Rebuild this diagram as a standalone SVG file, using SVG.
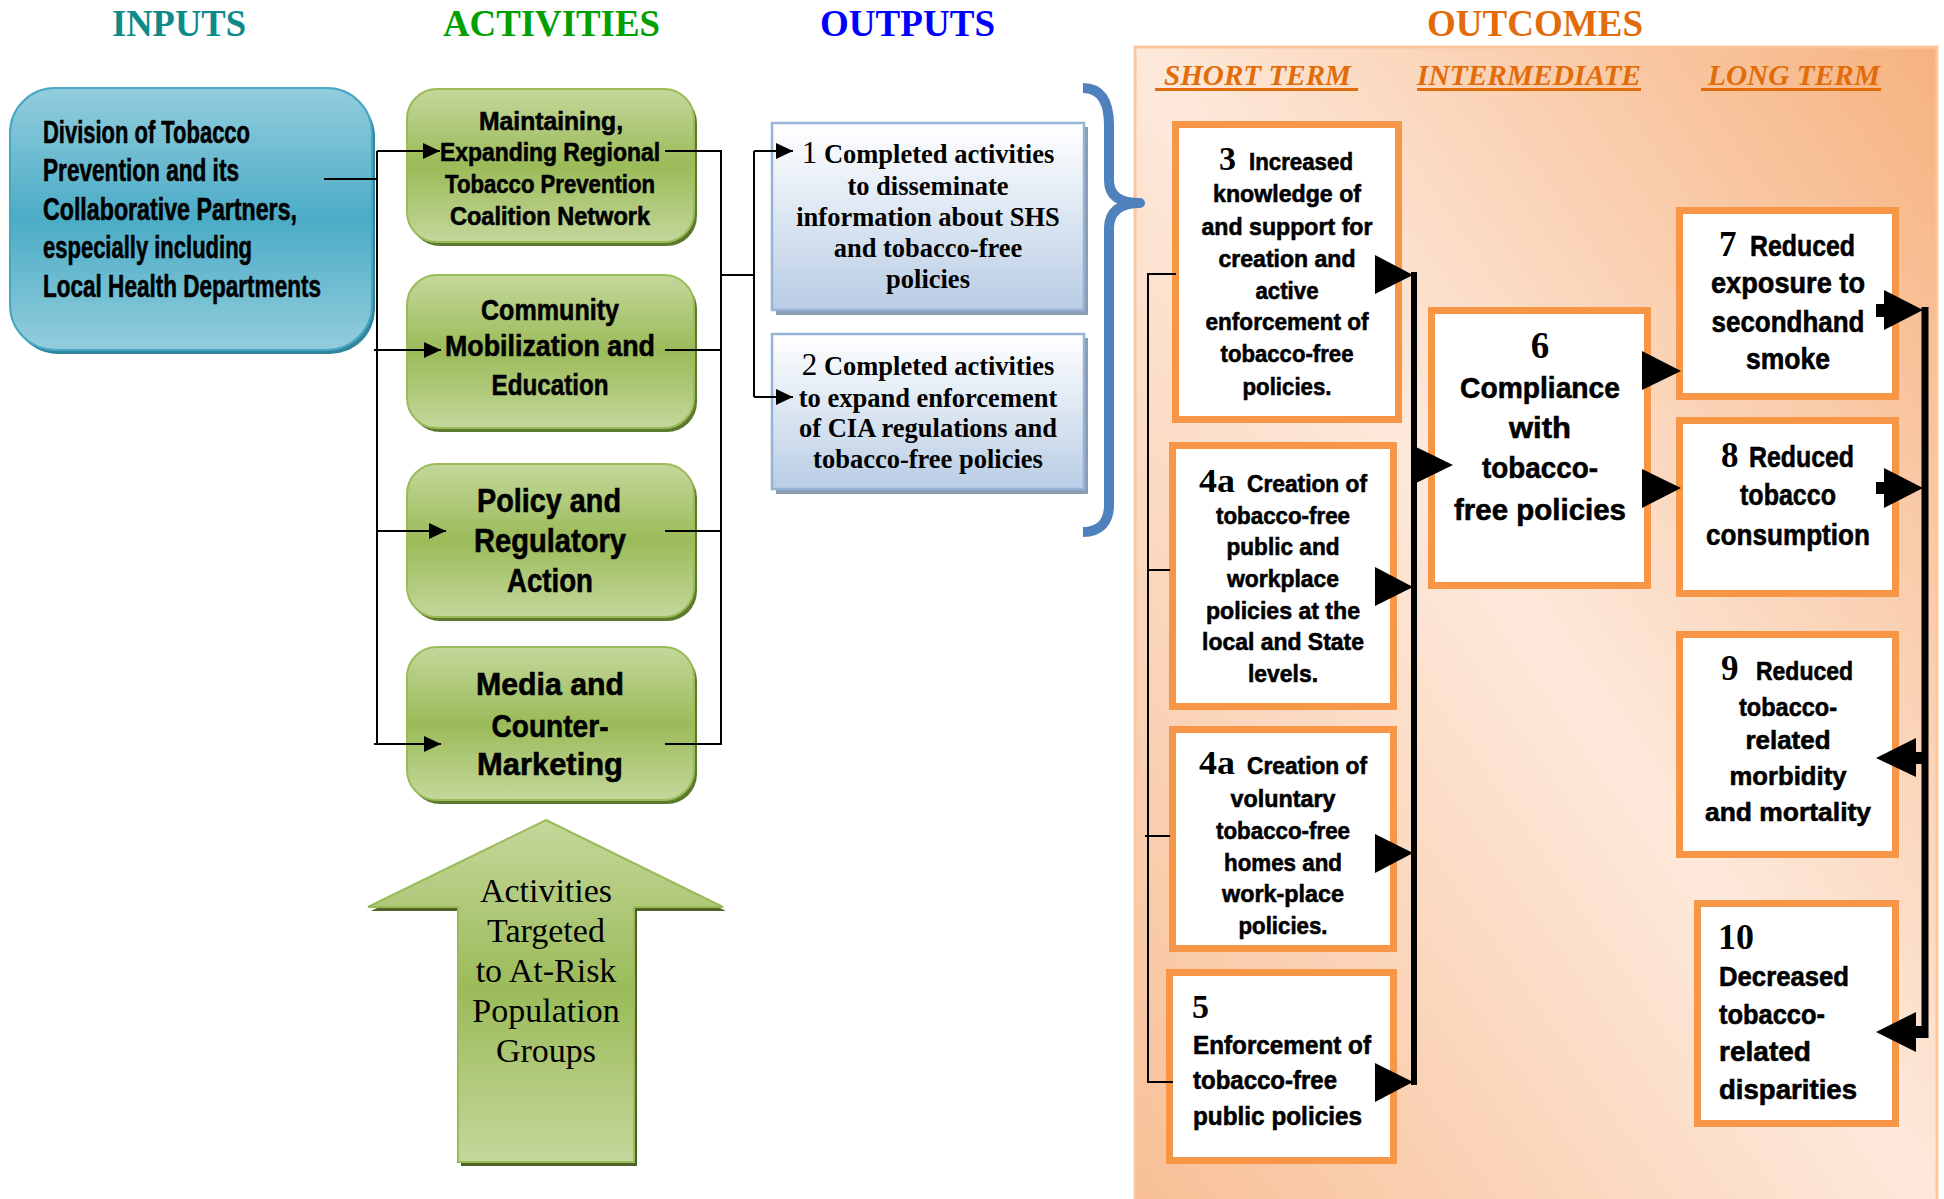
<svg xmlns="http://www.w3.org/2000/svg" width="1944" height="1199" viewBox="0 0 1944 1199">
<defs>
  <linearGradient id="gBlue" x1="0" y1="0" x2="0" y2="1">
    <stop offset="0" stop-color="#93CDDD"/><stop offset="0.5" stop-color="#4BACC6"/><stop offset="1" stop-color="#93CDDD"/>
  </linearGradient>
  <linearGradient id="gGreen" x1="0" y1="0" x2="0" y2="1">
    <stop offset="0" stop-color="#C4D79B"/><stop offset="0.5" stop-color="#9BBB59"/><stop offset="1" stop-color="#C4D79B"/>
  </linearGradient>
  <linearGradient id="gOut" x1="0" y1="0" x2="0" y2="1">
    <stop offset="0" stop-color="#FFFFFF"/><stop offset="1" stop-color="#B9CDE5"/>
  </linearGradient>
  <linearGradient id="gPanel" x1="1" y1="0" x2="0" y2="1">
    <stop offset="0" stop-color="#F6B27F"/><stop offset="0.5" stop-color="#FDE9DB"/><stop offset="1" stop-color="#F8BF96"/>
  </linearGradient>
  <marker id="ah" markerUnits="userSpaceOnUse" markerWidth="18" markerHeight="18" refX="17" refY="8" orient="auto">
    <path d="M0,0 L17,8 L0,16 z" fill="#000"/>
  </marker>
</defs>
<style>
  .ln{fill:none;stroke:#000;stroke-width:2}
  .gb{fill:url(#gGreen);stroke:#9BBB59;stroke-width:2}
  .gs{fill:#5C7A2E}
  .ob{fill:#fff;stroke:#F79646;stroke-width:7}
  .outb{fill:url(#gOut);stroke:#95B3D7;stroke-width:2.5}
  .outs{fill:#8C9DB3}
  .sans{font-family:"Liberation Sans",Arial,sans-serif;font-weight:bold;fill:#000;stroke:#000;stroke-width:0.6}
  .serif{font-family:"Liberation Serif","Times New Roman",serif;fill:#000}
  .b{font-weight:bold}
  .c{text-anchor:middle}
  .title{font-family:"Liberation Serif","Times New Roman",serif;font-weight:bold;font-size:38px}
  .sub{font-family:"Liberation Serif","Times New Roman",serif;font-weight:bold;font-style:italic;font-size:29px;fill:#E36C0A}
  .blk{fill:#000}
</style>

<rect width="1944" height="1199" fill="#fff"/>

<!-- column titles -->
<g id="titles">
  <text class="title" x="112" y="36" fill="#0E8A8A" textLength="134" lengthAdjust="spacingAndGlyphs">INPUTS</text>
  <text class="title" x="443" y="36" fill="#00A000" textLength="217" lengthAdjust="spacingAndGlyphs">ACTIVITIES</text>
  <text class="title" x="820" y="36" fill="#0000FF" textLength="175" lengthAdjust="spacingAndGlyphs">OUTPUTS</text>
  <text class="title" x="1427" y="36" fill="#E36C0A" textLength="216" lengthAdjust="spacingAndGlyphs">OUTCOMES</text>
</g>

<!-- outcomes panel -->
<g id="outcomes-panel">
  <rect x="1135" y="47" width="802" height="1160" fill="url(#gPanel)" stroke="#F9C6A0" stroke-width="3"/>
  <text class="sub" x="1164" y="85" textLength="187" lengthAdjust="spacingAndGlyphs">SHORT TERM</text>
  <rect x="1155" y="88" width="203" height="3" fill="#E36C0A"/>
  <text class="sub" x="1417" y="85" textLength="224" lengthAdjust="spacingAndGlyphs">INTERMEDIATE</text>
  <rect x="1417" y="88" width="224" height="3" fill="#E36C0A"/>
  <text class="sub" x="1708" y="85" textLength="172" lengthAdjust="spacingAndGlyphs">LONG TERM</text>
  <rect x="1701" y="88" width="180" height="3" fill="#E36C0A"/>
</g>

<!-- inputs -->
<g id="node-inputs">
  <rect x="13" y="92" width="362" height="262" rx="45" fill="#31859C"/>
  <rect x="10" y="88" width="362" height="262" rx="45" fill="url(#gBlue)" stroke="#46A7C2" stroke-width="2"/>
  <text class="sans" font-size="31" x="43" y="143" textLength="207" lengthAdjust="spacingAndGlyphs">Division of Tobacco</text>
  <text class="sans" font-size="31" x="43" y="181" textLength="196" lengthAdjust="spacingAndGlyphs">Prevention and its</text>
  <text class="sans" font-size="31" x="43" y="220" textLength="254" lengthAdjust="spacingAndGlyphs">Collaborative Partners,</text>
  <text class="sans" font-size="31" x="43" y="258" textLength="209" lengthAdjust="spacingAndGlyphs">especially including</text>
  <text class="sans" font-size="31" x="43" y="297" textLength="278" lengthAdjust="spacingAndGlyphs">Local Health Departments</text>
</g>

<!-- activities -->
<g id="node-act1">
  <rect class="gs" x="410" y="93" width="287" height="153" rx="30"/>
  <rect class="gb" x="407" y="89" width="287" height="153" rx="30"/>
  <text class="sans c" font-size="25" x="551" y="130" textLength="144" lengthAdjust="spacingAndGlyphs">Maintaining,</text>
  <text class="sans c" font-size="25" x="550" y="161" textLength="220" lengthAdjust="spacingAndGlyphs">Expanding Regional</text>
  <text class="sans c" font-size="25" x="550" y="193" textLength="210" lengthAdjust="spacingAndGlyphs">Tobacco Prevention</text>
  <text class="sans c" font-size="25" x="550" y="225" textLength="200" lengthAdjust="spacingAndGlyphs">Coalition Network</text>
</g>
<g id="node-act2">
  <rect class="gs" x="410" y="279" width="287" height="153" rx="30"/>
  <rect class="gb" x="407" y="275" width="287" height="153" rx="30"/>
  <text class="sans c" font-size="30" x="550" y="320" textLength="138" lengthAdjust="spacingAndGlyphs">Community</text>
  <text class="sans c" font-size="30" x="550" y="356" textLength="210" lengthAdjust="spacingAndGlyphs">Mobilization and</text>
  <text class="sans c" font-size="30" x="550" y="395" textLength="117" lengthAdjust="spacingAndGlyphs">Education</text>
</g>
<g id="node-act3">
  <rect class="gs" x="410" y="468" width="287" height="153" rx="30"/>
  <rect class="gb" x="407" y="464" width="287" height="153" rx="30"/>
  <text class="sans c" font-size="34" x="549" y="512" textLength="144" lengthAdjust="spacingAndGlyphs">Policy and</text>
  <text class="sans c" font-size="34" x="550" y="552" textLength="152" lengthAdjust="spacingAndGlyphs">Regulatory</text>
  <text class="sans c" font-size="34" x="550" y="592" textLength="86" lengthAdjust="spacingAndGlyphs">Action</text>
</g>
<g id="node-act4">
  <rect class="gs" x="410" y="651" width="287" height="153" rx="30"/>
  <rect class="gb" x="407" y="647" width="287" height="153" rx="30"/>
  <text class="sans c" font-size="32" x="550" y="695" textLength="148" lengthAdjust="spacingAndGlyphs">Media and</text>
  <text class="sans c" font-size="32" x="550" y="737" textLength="117" lengthAdjust="spacingAndGlyphs">Counter-</text>
  <text class="sans c" font-size="32" x="550" y="775" textLength="146" lengthAdjust="spacingAndGlyphs">Marketing</text>
</g>

<!-- big up arrow -->
<g id="node-target">
  <polygon points="549,824 726,911 637,911 637,1166 461,1166 461,911 371,911" fill="#4F6228"/>
  <polygon points="546,820 723,907 634,907 634,1162 458,1162 458,907 368,907" fill="url(#gGreen)" stroke="#9BBB59" stroke-width="2"/>
  <text class="serif c" font-size="34" x="546" y="902">Activities</text>
  <text class="serif c" font-size="34" x="546" y="942">Targeted</text>
  <text class="serif c" font-size="34" x="546" y="982">to At-Risk</text>
  <text class="serif c" font-size="34" x="546" y="1022">Population</text>
  <text class="serif c" font-size="34" x="546" y="1062">Groups</text>
</g>

<!-- outputs -->
<g id="node-out1">
  <rect class="outs" x="776" y="127" width="312" height="188"/>
  <rect class="outb" x="772" y="123" width="312" height="187"/>
  <text class="serif c b" font-size="26.5" x="928" y="163"><tspan font-weight="normal" font-size="31">1</tspan> Completed activities</text>
  <text class="serif c b" font-size="26.5" x="928" y="195">to disseminate</text>
  <text class="serif c b" font-size="26.5" x="928" y="226">information about SHS</text>
  <text class="serif c b" font-size="26.5" x="928" y="257">and tobacco-free</text>
  <text class="serif c b" font-size="26.5" x="928" y="288">policies</text>
</g>
<g id="node-out2">
  <rect class="outs" x="776" y="338" width="312" height="156"/>
  <rect class="outb" x="772" y="334" width="312" height="155"/>
  <text class="serif c b" font-size="26.5" x="928" y="375"><tspan font-weight="normal" font-size="31">2</tspan> Completed activities</text>
  <text class="serif c b" font-size="26.5" x="928" y="407">to expand enforcement</text>
  <text class="serif c b" font-size="26.5" x="928" y="437">of CIA regulations and</text>
  <text class="serif c b" font-size="26.5" x="928" y="468">tobacco-free policies</text>
</g>

<!-- brace -->
<g id="brace">
  <path d="M1083,88 C1100,88 1109,100 1109,125 L1109,180 C1109,196 1120,203 1140,203 C1120,203 1109,212 1109,228 L1109,505 C1109,522 1100,532 1083,532" fill="none" stroke="#4F81BD" stroke-width="10" stroke-linejoin="round"/>
</g>

<!-- outcomes: short term -->
<g id="node-3">
  <rect class="ob" x="1175.5" y="124.5" width="223" height="295"/>
  <text class="serif b" font-size="34" x="1219" y="170">3</text>
  <text class="sans" font-size="24" x="1249" y="170" textLength="104" lengthAdjust="spacingAndGlyphs">Increased</text>
  <text class="sans c" font-size="24" x="1287" y="202" textLength="148" lengthAdjust="spacingAndGlyphs">knowledge of</text>
  <text class="sans c" font-size="24" x="1287" y="235" textLength="171" lengthAdjust="spacingAndGlyphs">and support for</text>
  <text class="sans c" font-size="24" x="1287" y="267" textLength="137" lengthAdjust="spacingAndGlyphs">creation and</text>
  <text class="sans c" font-size="24" x="1287" y="299" textLength="63" lengthAdjust="spacingAndGlyphs">active</text>
  <text class="sans c" font-size="24" x="1287" y="330" textLength="163" lengthAdjust="spacingAndGlyphs">enforcement of</text>
  <text class="sans c" font-size="24" x="1287" y="362" textLength="133" lengthAdjust="spacingAndGlyphs">tobacco-free</text>
  <text class="sans c" font-size="24" x="1287" y="395" textLength="89" lengthAdjust="spacingAndGlyphs">policies.</text>
</g>
<g id="node-4a-public">
  <rect class="ob" x="1172.5" y="445.5" width="221" height="261"/>
  <text class="serif b" font-size="33" x="1199" y="492" textLength="36" lengthAdjust="spacingAndGlyphs">4a</text>
  <text class="sans" font-size="24" x="1247" y="492" textLength="120" lengthAdjust="spacingAndGlyphs">Creation of</text>
  <text class="sans c" font-size="24" x="1283" y="524" textLength="134" lengthAdjust="spacingAndGlyphs">tobacco-free</text>
  <text class="sans c" font-size="24" x="1283" y="555" textLength="113" lengthAdjust="spacingAndGlyphs">public and</text>
  <text class="sans c" font-size="24" x="1283" y="587" textLength="112" lengthAdjust="spacingAndGlyphs">workplace</text>
  <text class="sans c" font-size="24" x="1283" y="619" textLength="154" lengthAdjust="spacingAndGlyphs">policies at the</text>
  <text class="sans c" font-size="24" x="1283" y="650" textLength="162" lengthAdjust="spacingAndGlyphs">local and State</text>
  <text class="sans c" font-size="24" x="1283" y="682" textLength="70" lengthAdjust="spacingAndGlyphs">levels.</text>
</g>
<g id="node-4a-voluntary">
  <rect class="ob" x="1172.5" y="729.5" width="221" height="219"/>
  <text class="serif b" font-size="33" x="1199" y="774" textLength="36" lengthAdjust="spacingAndGlyphs">4a</text>
  <text class="sans" font-size="24" x="1247" y="774" textLength="120" lengthAdjust="spacingAndGlyphs">Creation of</text>
  <text class="sans c" font-size="24" x="1283" y="807" textLength="105" lengthAdjust="spacingAndGlyphs">voluntary</text>
  <text class="sans c" font-size="24" x="1283" y="839" textLength="134" lengthAdjust="spacingAndGlyphs">tobacco-free</text>
  <text class="sans c" font-size="24" x="1283" y="871" textLength="118" lengthAdjust="spacingAndGlyphs">homes and</text>
  <text class="sans c" font-size="24" x="1283" y="902" textLength="122" lengthAdjust="spacingAndGlyphs">work-place</text>
  <text class="sans c" font-size="24" x="1283" y="934" textLength="89" lengthAdjust="spacingAndGlyphs">policies.</text>
</g>
<g id="node-5">
  <rect class="ob" x="1169.5" y="972.5" width="224" height="188"/>
  <text class="serif b" font-size="34" x="1192" y="1018">5</text>
  <text class="sans" font-size="26" x="1193" y="1054" textLength="178" lengthAdjust="spacingAndGlyphs">Enforcement of</text>
  <text class="sans" font-size="26" x="1193" y="1089" textLength="144" lengthAdjust="spacingAndGlyphs">tobacco-free</text>
  <text class="sans" font-size="26" x="1193" y="1125" textLength="169" lengthAdjust="spacingAndGlyphs">public policies</text>
</g>

<!-- outcomes: intermediate -->
<g id="node-6">
  <rect class="ob" x="1431.5" y="310.5" width="216" height="275"/>
  <text class="serif b c" font-size="37" x="1540" y="358">6</text>
  <text class="sans c" font-size="30" x="1540" y="398" textLength="160" lengthAdjust="spacingAndGlyphs">Compliance</text>
  <text class="sans c" font-size="30" x="1540" y="438" textLength="62" lengthAdjust="spacingAndGlyphs">with</text>
  <text class="sans c" font-size="30" x="1540" y="478" textLength="116" lengthAdjust="spacingAndGlyphs">tobacco-</text>
  <text class="sans c" font-size="30" x="1540" y="520" textLength="172" lengthAdjust="spacingAndGlyphs">free policies</text>
</g>

<!-- outcomes: long term -->
<g id="node-7">
  <rect class="ob" x="1679.5" y="210.5" width="216" height="186"/>
  <text class="serif b" font-size="35" x="1719" y="256">7</text>
  <text class="sans" font-size="29" x="1750" y="256" textLength="105" lengthAdjust="spacingAndGlyphs">Reduced</text>
  <text class="sans c" font-size="29" x="1788" y="293" textLength="154" lengthAdjust="spacingAndGlyphs">exposure to</text>
  <text class="sans c" font-size="29" x="1788" y="332" textLength="153" lengthAdjust="spacingAndGlyphs">secondhand</text>
  <text class="sans c" font-size="29" x="1788" y="369" textLength="84" lengthAdjust="spacingAndGlyphs">smoke</text>
</g>
<g id="node-8">
  <rect class="ob" x="1679.5" y="420.5" width="216" height="173"/>
  <text class="serif b" font-size="35" x="1721" y="467">8</text>
  <text class="sans" font-size="29" x="1749" y="467" textLength="105" lengthAdjust="spacingAndGlyphs">Reduced</text>
  <text class="sans c" font-size="29" x="1788" y="505" textLength="96" lengthAdjust="spacingAndGlyphs">tobacco</text>
  <text class="sans c" font-size="29" x="1788" y="545" textLength="164" lengthAdjust="spacingAndGlyphs">consumption</text>
</g>
<g id="node-9">
  <rect class="ob" x="1679.5" y="634.5" width="216" height="220"/>
  <text class="serif b" font-size="35" x="1721" y="680">9</text>
  <text class="sans" font-size="26" x="1756" y="680" textLength="97" lengthAdjust="spacingAndGlyphs">Reduced</text>
  <text class="sans c" font-size="26" x="1788" y="716" textLength="98" lengthAdjust="spacingAndGlyphs">tobacco-</text>
  <text class="sans c" font-size="26" x="1788" y="749" textLength="85" lengthAdjust="spacingAndGlyphs">related</text>
  <text class="sans c" font-size="26" x="1788" y="785" textLength="117" lengthAdjust="spacingAndGlyphs">morbidity</text>
  <text class="sans c" font-size="26" x="1788" y="821" textLength="166" lengthAdjust="spacingAndGlyphs">and mortality</text>
</g>
<g id="node-10">
  <rect class="ob" x="1697.5" y="903.5" width="198" height="220"/>
  <text class="serif b" font-size="36" x="1718" y="949">10</text>
  <text class="sans" font-size="27" x="1719" y="986" textLength="130" lengthAdjust="spacingAndGlyphs">Decreased</text>
  <text class="sans" font-size="27" x="1719" y="1024" textLength="106" lengthAdjust="spacingAndGlyphs">tobacco-</text>
  <text class="sans" font-size="27" x="1719" y="1061" textLength="92" lengthAdjust="spacingAndGlyphs">related</text>
  <text class="sans" font-size="27" x="1719" y="1099" textLength="138" lengthAdjust="spacingAndGlyphs">disparities</text>
</g>

<!-- connectors -->
<g id="connectors">
  <!-- inputs to activities -->
  <path class="ln" d="M324,179 H377 M377,151 V744"/>
  <path class="ln" d="M377,151 H440" marker-end="url(#ah)"/>
  <path class="ln" d="M374,350 H441" marker-end="url(#ah)"/>
  <path class="ln" d="M377,531 H446" marker-end="url(#ah)"/>
  <path class="ln" d="M374,744 H441" marker-end="url(#ah)"/>
  <!-- activities to outputs -->
  <path class="ln" d="M665,151 H722 M665,350 H722 M665,531 H722 M665,744 H722 M721,151 V744 M721,275 H754 M754,151 V397"/>
  <path class="ln" d="M754,151 H793" marker-end="url(#ah)"/>
  <path class="ln" d="M754,397 H793" marker-end="url(#ah)"/>
  <!-- short term bracket -->
  <path class="ln" d="M1176,274 H1148 V1082 H1173 M1148,570 H1170 M1145,836 H1170"/>
  <!-- short term bus -->
  <path d="M1414,272 V1085" stroke="#000" stroke-width="6" fill="none"/>
  <polygon class="blk" points="1375,255 1413,275 1375,294"/>
  <polygon class="blk" points="1375,567 1413,587 1375,606"/>
  <polygon class="blk" points="1375,834 1413,853 1375,873"/>
  <polygon class="blk" points="1375,1063 1413,1082 1375,1102"/>
  <polygon class="blk" points="1416,447 1453,465 1416,483"/>
  <!-- intermediate to long term -->
  <polygon class="blk" points="1642,351 1681,371 1642,390"/>
  <polygon class="blk" points="1642,469 1681,488 1642,508"/>
  <!-- long term bus -->
  <path d="M1925,307 V1038" stroke="#000" stroke-width="7" fill="none"/>
  <polygon class="blk" points="1876,304 1884,304 1884,290 1923,310 1884,330 1884,317 1876,317"/>
  <polygon class="blk" points="1876,482 1884,482 1884,468 1923,488 1884,508 1884,494 1876,494"/>
  <polygon class="blk" points="1928,752 1916,752 1916,738 1876,758 1916,777 1916,764 1928,764"/>
  <polygon class="blk" points="1928,1026 1916,1026 1916,1012 1876,1032 1916,1052 1916,1038 1928,1038"/>
</g>
</svg>
